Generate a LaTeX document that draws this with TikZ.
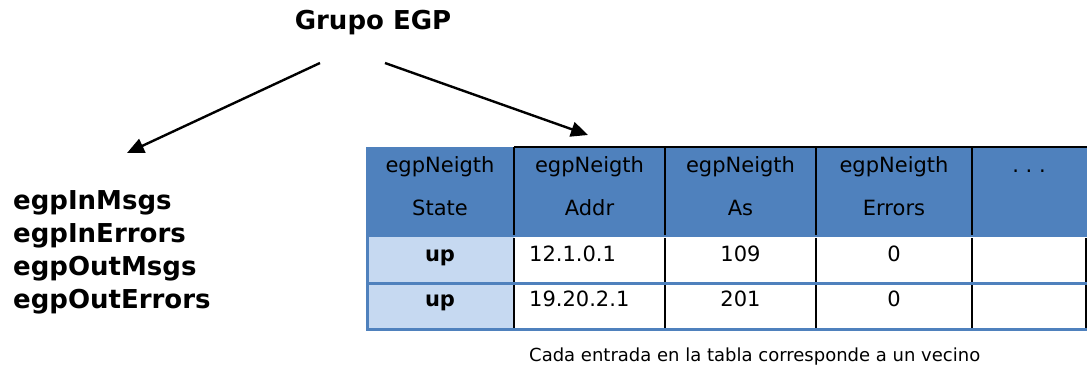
\documentclass[tikz,border=0pt]{standalone}
\usepackage{fontspec}
\setmainfont{DejaVu Sans}
\usetikzlibrary{arrows.meta}
\definecolor{hdrblue}{HTML}{4F81BD}
\definecolor{lightblue}{HTML}{C6D9F1}
\begin{document}
\begin{tikzpicture}[x=1pt,y=-1pt,
  arr/.style={line width=2.4pt,-{Triangle[length=17pt,width=15pt]}},
  hdr/.style={font=\fontsize{21}{21}\selectfont,anchor=base,inner sep=0pt},
  cell/.style={font=\fontsize{21}{21}\selectfont,anchor=base,inner sep=0pt},
  vline/.style={line width=1.6pt,black},
  bline/.style={line width=3pt,hdrblue},
  big/.style={font=\fontsize{26}{26}\selectfont\bfseries,anchor=base west,inner sep=0pt}]
\useasboundingbox (0,0) rectangle (1087,370);
% title
\node[font=\fontsize{26}{26}\selectfont\bfseries,anchor=base,inner sep=0pt] (title) at (373,29) {Grupo EGP};
% left list
\node[big] (m1) at (13,209) {egpInMsgs};
\node[big] (m2) at (13,242) {egpInErrors};
\node[big] (m3) at (13,275) {egpOutMsgs};
\node[big] (m4) at (13,308) {egpOutErrors};
% table backgrounds
\fill[hdrblue] (366,147) rectangle (1087,237);
\fill[lightblue] (366,237) rectangle (514,329);
% top border
\draw[vline] (514,147) -- (1087,147);
% verticals
\foreach \x in {514,665,816,972}{
  \draw[vline] (\x,147) -- (\x,235);
  \draw[vline] (\x,238) -- (\x,329);
}
\draw[vline] (1086,238) -- (1086,329);
% blue horizontals
\draw[bline] (366,283) -- (1087,283);
\draw[bline] (366,329) -- (1087,329);
\draw[bline] (367,237) -- (367,330);
% header texts
\node[hdr] (h1a) at (440,172) {egpNeigth};
\node[hdr] (h1b) at (440,215) {State};
\node[hdr] (h2a) at (589.5,172) {egpNeigth};
\node[hdr] (h2b) at (589.5,215) {Addr};
\node[hdr] (h3a) at (740.5,172) {egpNeigth};
\node[hdr] (h3b) at (740.5,215) {As};
\node[hdr] (h4a) at (894,172) {egpNeigth};
\node[hdr] (h4b) at (894,215) {Errors};
\node[hdr] (h5a) at (1029,172) {.\ .\ .};
% data rows
\node[cell,font=\fontsize{21}{21}\selectfont\bfseries] (u1) at (440,261) {up};
\node[cell,anchor=base west] (a1) at (529,261) {12.1.0.1};
\node[cell] (s1) at (740.5,261) {109};
\node[cell] (e1) at (894,261) {0};
\node[cell,font=\fontsize{21}{21}\selectfont\bfseries] (u2) at (440,306) {up};
\node[cell,anchor=base west] (a2) at (529,306) {19.20.2.1};
\node[cell] (s2) at (740.5,306) {201};
\node[cell] (e2) at (894,306) {0};
% caption
\node[font=\fontsize{18}{18}\selectfont,anchor=base west,inner sep=0pt] (cap) at (529,361) {Cada entrada en la tabla corresponde a un vecino};
% arrows
\coordinate (ls) at (320,63);
\coordinate (le) at (127,153);
\coordinate (rs) at (385,63);
\coordinate (re) at (588,135);
\draw[arr] (ls) -- (le);
\draw[arr] (rs) -- (re);
\end{tikzpicture}
\end{document}
